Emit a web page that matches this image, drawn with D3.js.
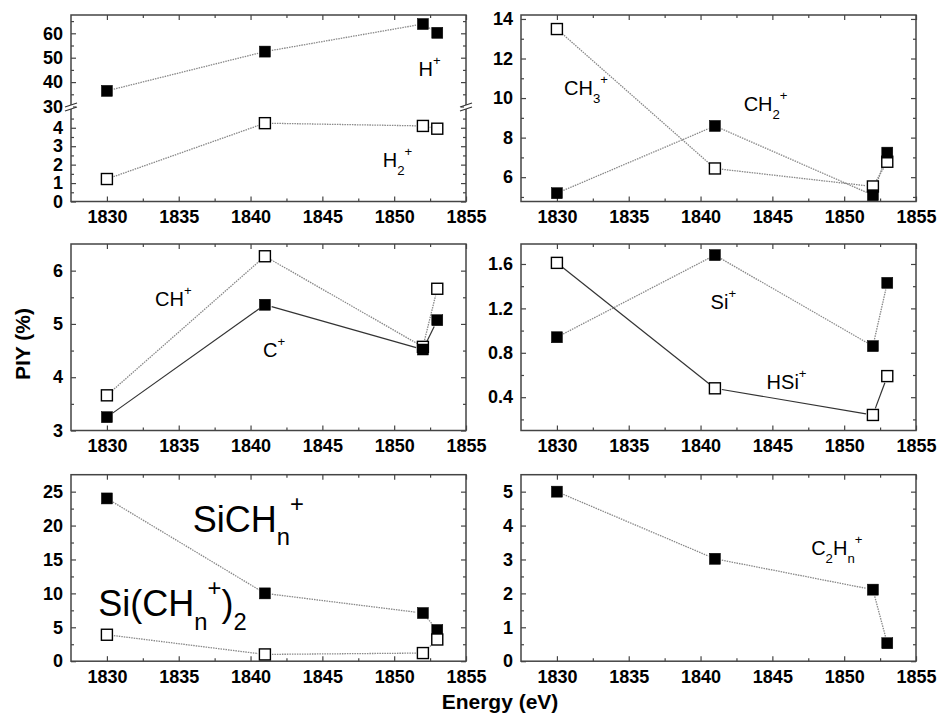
<!DOCTYPE html>
<html>
<head>
<meta charset="utf-8">
<script src="https://cdn.jsdelivr.net/npm/d3@7"></script>
<style>
  body { margin: 0; background: #fff; }
  svg { display: block; font-family: "Liberation Sans", Arial, sans-serif; }
  .tick text { font-size: 18px; font-weight: bold; fill: #000; }
  .tick line { stroke: #444; stroke-width: 1.2; }
</style>
</head>
<body>
<svg id="chart" width="938" height="714"></svg>
<script>
// photon energies (eV)
const energy = [1830, 1841, 1852, 1853];

// PIY (%) per ion
const hPlus = [36.4, 52.5, 63.8, 60.2];
const h2Plus = [1.22, 4.25, 4.1, 3.95];
const ch3Plus = [13.49, 6.44, 5.53, 6.78];
const ch2Plus = [5.19, 8.59, 5.09, 7.24];
const chPlus = [3.66, 6.27, 4.57, 5.66];
const cPlus = [3.25, 5.36, 4.52, 5.07];
const siPlus = [0.94, 1.68, 0.86, 1.43];
const hsiPlus = [1.61, 0.48, 0.24, 0.59];
const sichnPlus = [24.0, 10.0, 7.1, 4.6];
const sich2Plus = [3.9, 1.0, 1.2, 3.2];
const c2hnPlus = [5.0, 3.02, 2.11, 0.53];

// tick labels
const xTicks = [1830, 1835, 1840, 1845, 1850, 1855];
const xMinor = [1832.5, 1837.5, 1842.5, 1847.5, 1852.5];
const hLowTicks = [0, 1, 2, 3, 4];
const hLowMinor = [0.5, 1.5, 2.5, 3.5, 4.5];
const hHighTicks = [30, 40, 50, 60];
const hHighMinor = [35, 45, 55, 65];
const ch3Ticks = [6, 8, 10, 12, 14];
const ch3Minor = [5, 7, 9, 11, 13];
const chTicks = [3, 4, 5, 6];
const chMinor = [3.5, 4.5, 5.5];
const siTicks = [0.4, 0.8, 1.2, 1.6];
const siMinor = [0.2, 0.6, 1.0, 1.4];
const sichTicks = [0, 5, 10, 15, 20, 25];
const sichMinor = [2.5, 7.5, 12.5, 17.5, 22.5];
const c2Ticks = [0, 1, 2, 3, 4, 5];
const c2Minor = [0.5, 1.5, 2.5, 3.5, 4.5];

// layout
const colLeft = [71, 521];
const rowTop = [15, 244, 474.7];
const pw = 395, ph = 186.5;
const breakY = 92; // panel-local y of axis break in H+ panel

const svg = d3.select("#chart");
svg.append("rect").attr("width", 938).attr("height", 714).attr("fill", "#fff");

const x = d3.scaleLinear().domain([1827.5, 1855]).range([0, pw]);

const panels = [
  {
    col: 0, row: 0,
    scales: {
      upper: d3.scaleLinear().domain([30, 67.5]).range([breakY - 0.5, 0]),
      lower: d3.scaleLinear().domain([0, 5.1]).range([ph, breakY + 0.5])
    },
    ticks: [
      { seg: "upper", major: hHighTicks, minor: hHighMinor, fmt: d3.format("d") },
      { seg: "lower", major: hLowTicks, minor: hLowMinor, fmt: d3.format("d") }
    ],
    broken: true,
    series: [
      { seg: "upper", values: hPlus, filled: true, solid: false },
      { seg: "lower", values: h2Plus, filled: false, solid: false }
    ],
    labels: [
      { seg: "upper", x: 1851.7, y: 42.5, parts: [["H"], ["+", "sup"]] },
      { seg: "lower", x: 1849.2, y: 1.85, parts: [["H"], ["2", "sub"], ["+", "sup"]] }
    ]
  },
  {
    col: 1, row: 0,
    scales: { main: d3.scaleLinear().domain([4.77, 14.2]).range([ph, 0]) },
    ticks: [{ seg: "main", major: ch3Ticks, minor: ch3Minor, fmt: d3.format("d") }],
    series: [
      { seg: "main", values: ch3Plus, filled: false, solid: false },
      { seg: "main", values: ch2Plus, filled: true, solid: false }
    ],
    labels: [
      { seg: "main", x: 1830.5, y: 10.15, parts: [["CH"], ["3", "sub"], ["+", "sup"]] },
      { seg: "main", x: 1843.0, y: 9.35, parts: [["CH"], ["2", "sub"], ["+", "sup"]] }
    ]
  },
  {
    col: 0, row: 1,
    scales: { main: d3.scaleLinear().domain([3, 6.5]).range([ph, 0]) },
    ticks: [{ seg: "main", major: chTicks, minor: chMinor, fmt: d3.format("d") }],
    series: [
      { seg: "main", values: chPlus, filled: false, solid: false },
      { seg: "main", values: cPlus, filled: true, solid: true }
    ],
    labels: [
      { seg: "main", x: 1833.35, y: 5.34, parts: [["CH"], ["+", "sup"]] },
      { seg: "main", x: 1840.87, y: 4.38, parts: [["C"], ["+", "sup"]] }
    ]
  },
  {
    col: 1, row: 1,
    scales: { main: d3.scaleLinear().domain([0.1, 1.78]).range([ph, 0]) },
    ticks: [{ seg: "main", major: siTicks, minor: siMinor, fmt: d3.format(".1f") }],
    series: [
      { seg: "main", values: hsiPlus, filled: false, solid: true },
      { seg: "main", values: siPlus, filled: true, solid: false }
    ],
    labels: [
      { seg: "main", x: 1840.7, y: 1.194, parts: [["Si"], ["+", "sup"]] },
      { seg: "main", x: 1844.6, y: 0.47, parts: [["HSi"], ["+", "sup"]] }
    ]
  },
  {
    col: 0, row: 2,
    scales: { main: d3.scaleLinear().domain([0, 27.5]).range([ph, 0]) },
    ticks: [{ seg: "main", major: sichTicks, minor: sichMinor, fmt: d3.format("d") }],
    series: [
      { seg: "main", values: sichnPlus, filled: true, solid: false },
      { seg: "main", values: sich2Plus, filled: false, solid: false }
    ],
    labels: [
      { seg: "main", x: 1835.97, y: 19.1, size: 36, parts: [["SiCH"], ["n", "sub"], ["+", "sup"]] },
      { seg: "main", x: 1829.4, y: 6.65, size: 36, parts: [["Si(CH"], ["n", "sub"], ["+", "sup"], [")"], ["2", "sub"]] }
    ]
  },
  {
    col: 1, row: 2,
    scales: { main: d3.scaleLinear().domain([0, 5.5]).range([ph, 0]) },
    ticks: [{ seg: "main", major: c2Ticks, minor: c2Minor, fmt: d3.format("d") }],
    series: [
      { seg: "main", values: c2hnPlus, filled: true, solid: false }
    ],
    labels: [
      { seg: "main", x: 1847.7, y: 3.12, parts: [["C"], ["2", "sub"], ["H"], ["n", "sub"], ["+", "sup"]] }
    ]
  }
];

// text with sub/superscripts
function addLabel(g, px, py, parts, fs) {
  const t = g.append("text")
    .attr("x", px)
    .attr("y", py)
    .attr("fill", "#000")
    .style("font-size", fs + "px");
  let shift = 0;
  parts.forEach(([txt, kind]) => {
    const target = kind === "sup" ? -0.55 * fs : kind === "sub" ? 0.38 * fs : 0;
    t.append("tspan")
      .attr("dy", target - shift)
      .style("font-size", (kind ? 0.66 * fs : fs) + "px")
      .text(txt);
    shift = target;
  });
}

panels.forEach((p) => {
  const g = svg.append("g")
    .attr("transform", `translate(${colLeft[p.col]},${rowTop[p.row]})`);

  // x axes, bottom with labels, top mirrored
  g.append("g").attr("transform", `translate(0,${ph})`)
    .call(d3.axisBottom(x).tickValues(xTicks).tickSize(-5).tickPadding(9).tickFormat(d3.format("d")));
  g.append("g").attr("transform", `translate(0,${ph})`)
    .call(d3.axisBottom(x).tickValues(xMinor).tickSize(-3).tickFormat(""));
  g.append("g")
    .call(d3.axisTop(x).tickValues(xTicks).tickSize(-5).tickFormat(""));
  g.append("g")
    .call(d3.axisTop(x).tickValues(xMinor).tickSize(-3).tickFormat(""));

  // y axes, left with labels, right mirrored
  p.ticks.forEach((t) => {
    const y = p.scales[t.seg];
    g.append("g").call(d3.axisLeft(y).tickValues(t.major).tickSize(-5).tickPadding(8).tickFormat(t.fmt));
    g.append("g").call(d3.axisLeft(y).tickValues(t.minor).tickSize(-3).tickFormat(""));
    g.append("g").attr("transform", `translate(${pw},0)`)
      .call(d3.axisRight(y).tickValues(t.major).tickSize(-5).tickFormat(""));
    g.append("g").attr("transform", `translate(${pw},0)`)
      .call(d3.axisRight(y).tickValues(t.minor).tickSize(-3).tickFormat(""));
  });
  g.selectAll(".domain").remove();

  // frame
  g.append("rect")
    .attr("width", pw)
    .attr("height", ph)
    .attr("fill", "none")
    .attr("stroke", "#444")
    .attr("stroke-width", 1.5);

  // axis break marks
  if (p.broken) {
    [0, pw].forEach((bx) => {
      g.append("rect")
        .attr("x", bx - 2).attr("y", breakY - 2)
        .attr("width", 4).attr("height", 4)
        .attr("fill", "#fff");
      [-2, 2].forEach((o) => {
        g.append("line")
          .attr("x1", bx - 6).attr("y1", breakY + o + 2)
          .attr("x2", bx + 6).attr("y2", breakY + o - 2)
          .attr("stroke", "#333")
          .attr("stroke-width", 1.3);
      });
    });
  }

  // connecting lines, stopped short of the markers
  const gap = 7;
  p.series.forEach((s) => {
    const y = p.scales[s.seg];
    const pts = energy.map((e, i) => [x(e), y(s.values[i])]);
    d3.pairs(pts).forEach(([a, b]) => {
      const dx = b[0] - a[0], dy = b[1] - a[1];
      const len = Math.hypot(dx, dy);
      if (len <= 2 * gap) return;
      const ux = dx / len, uy = dy / len;
      g.append("path")
        .attr("d", d3.line()([[a[0] + ux * gap, a[1] + uy * gap], [b[0] - ux * gap, b[1] - uy * gap]]))
        .attr("fill", "none")
        .attr("stroke", s.solid ? "#333" : "#888")
        .attr("stroke-width", s.solid ? 1.2 : 1.3)
        .attr("stroke-dasharray", s.solid ? null : "1.5,1");
    });
  });

  // markers
  p.series.forEach((s) => {
    const y = p.scales[s.seg];
    g.selectAll(null)
      .data(s.values)
      .enter()
      .append("rect")
      .attr("x", (d, i) => x(energy[i]) - 5.5)
      .attr("y", (d) => y(d) - 5.5)
      .attr("width", 11)
      .attr("height", 11)
      .attr("fill", s.filled ? "#000" : "#fff")
      .attr("stroke", "#000")
      .attr("stroke-width", s.filled ? 0.5 : 1.4);
  });

  // ion labels
  p.labels.forEach((l) => {
    const y = p.scales[l.seg];
    addLabel(g, x(l.x), y(l.y), l.parts, l.size || 20);
  });
});

// axis titles
svg.append("text")
  .attr("transform", "translate(24,344) rotate(-90)")
  .attr("text-anchor", "middle")
  .attr("dominant-baseline", "middle")
  .style("font-size", "21px")
  .style("font-weight", "bold")
  .text("PIY (%)");

svg.append("text")
  .attr("x", 500)
  .attr("y", 703)
  .attr("text-anchor", "middle")
  .attr("dominant-baseline", "middle")
  .style("font-size", "21px")
  .style("font-weight", "bold")
  .text("Energy (eV)");
</script>
</body>
</html>
